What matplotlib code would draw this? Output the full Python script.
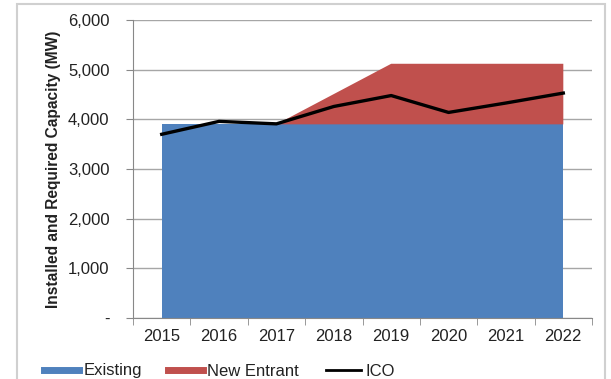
import matplotlib.pyplot as plt
from matplotlib.lines import Line2D
from matplotlib.patches import Rectangle
from matplotlib.ticker import FuncFormatter

plt.rcParams['font.family'] = ['Liberation Sans', 'DejaVu Sans']

years = ['2015', '2016', '2017', '2018', '2019', '2020', '2021', '2022']
existing = [3900, 3900, 3900, 3900, 3900, 3900, 3900, 3900]
new_entrant = [0, 0, 0, 610, 1220, 1220, 1220, 1220]
ico = [3700, 3960, 3910, 4260, 4480, 4140, 4330, 4530]

blue = '#4F81BD'
red = '#C0504D'
txt = '#222222'

fig = plt.figure(figsize=(6.11, 3.79), dpi=100)
ax = fig.add_axes([0.2177, 0.161, 0.7512, 0.786])

x = list(range(len(years)))
ax.stackplot(x, existing, new_entrant, colors=[blue, red], linewidth=0, zorder=2)
ax.plot(x, ico, color='black', lw=2.4, zorder=3)

ax.set_xlim(-0.5, len(years) - 0.5)
ax.set_ylim(0, 6000)
ax.set_yticks(range(0, 6001, 1000))

def fmt(v, pos):
    return '-' if v == 0 else f'{int(v):,}'
ax.yaxis.set_major_formatter(FuncFormatter(fmt))

ax.set_xticks(x)
ax.set_xticklabels(years)
ax.set_xticks([i - 0.5 for i in range(len(years) + 1)], minor=True)
ax.tick_params(axis='x', which='major', length=0, labelsize=12, pad=8, labelcolor=txt)
ax.tick_params(axis='x', which='minor', length=5, color='#888888', direction='out')
ax.tick_params(axis='y', length=5, color='#888888', labelsize=12, pad=12, labelcolor=txt)

ax.grid(axis='y', color='#a6a6a6', lw=1, zorder=0)
ax.set_axisbelow(True)
for s in ['top', 'right']:
    ax.spines[s].set_visible(False)
for s in ['left', 'bottom']:
    ax.spines[s].set_color('#888888')

ax.set_ylabel('Installed and Required Capacity (MW)', fontsize=11.2, fontweight='bold',
              labelpad=5, color=txt)

handles = [Line2D([], [], color=blue, lw=5),
           Line2D([], [], color=red, lw=5),
           Line2D([], [], color='black', lw=2)]
fig.legend(handles, ['Existing', 'New Entrant', 'ICO'], loc='center left',
           bbox_to_anchor=(44 / 611, 8 / 379), ncol=3, frameon=False, fontsize=12,
           borderpad=0, borderaxespad=0, labelcolor=txt,
           handlelength=2.1, handletextpad=0.25, columnspacing=1.6)

fig.patches.append(Rectangle((0.028, -0.02), 0.962, 1.01, transform=fig.transFigure,
                             fill=False, edgecolor='#d0d0d0', lw=1.5))

fig.savefig('out.png', dpi=100)
